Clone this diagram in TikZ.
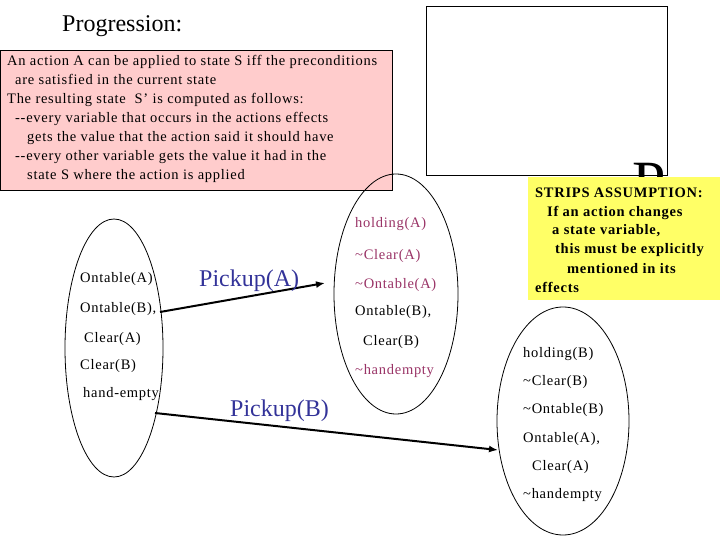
\documentclass[tikz,border=0pt]{standalone}
\usepackage{fontspec}
\setmainfont{Liberation Serif}
\newfontfamily\spaced[LetterSpace=5]{Liberation Serif}
\usetikzlibrary{shapes.geometric,arrows.meta}
\definecolor{pinkfill}{HTML}{FFCCCC}
\definecolor{yel}{HTML}{FFFF66}
\definecolor{mag}{HTML}{993366}
\definecolor{actblue}{HTML}{333399}
\newcommand{\tl}{\textasciitilde}
\begin{document}
\begin{tikzpicture}[x=1pt,y=-1pt,
  txt/.style={anchor=base west, inner sep=0pt, font=\spaced\fontsize{14.5}{17}\selectfont},
  btxt/.style={anchor=base west, inner sep=0pt, font=\spaced\fontsize{14.5}{17}\selectfont\bfseries},
  eff/.style={txt, text=mag},
  act/.style={anchor=base west, inner sep=0pt, text=actblue, font=\fontsize{24}{28}\selectfont},
  state/.style={draw, ellipse, inner sep=0pt, line width=0.8pt},
  arr/.style={line width=2pt, -{Latex[length=9pt,width=7pt]}}]
\useasboundingbox (0,0) rectangle (720,540);
% title
\node[anchor=base west, inner sep=0pt, font=\fontsize{24}{28}\selectfont] (title) at (62,32) {Progression:};
% pink box
\node[draw, fill=pinkfill, line width=1pt, anchor=north west, minimum width=392, minimum height=140, inner sep=0pt] (pbox) at (0,50) {};
\node[txt] (p1) at (7,66) {An action A can be applied to state S iff the preconditions};
\node[txt] (p2) at (15,85) {are satisfied in the current state};
\node[txt] (p3) at (7,104) {The resulting state\ \ S’ is computed as follows:};
\node[txt] (p4) at (15,123) {-{}-every variable that occurs in the actions effects};
\node[txt] (p5) at (27,142) {gets the value that the action said it should have};
\node[txt] (p6) at (15,161) {-{}-every other variable gets the value it had in the};
\node[txt] (p7) at (27,180) {state S where the action is applied};
% white rectangle and big letter (mostly hidden by the yellow box)
\node[draw, fill=white, line width=0.8pt, anchor=north west, minimum width=241, minimum height=169, inner sep=0pt] (wrect) at (426,6) {};
\begin{scope}
\clip (600,150) rectangle (700,177);
\node[anchor=base west, inner sep=0pt, font=\fontsize{60}{60}\selectfont] (bigP) at (632,203) {P};
\end{scope}
% yellow box
\node[fill=yel, anchor=north west, minimum width=192, minimum height=123, inner sep=0pt] (ybox) at (528,177) {};
\node[btxt] (y1) at (535,197) {STRIPS ASSUMPTION:};
\node[btxt] (y2) at (547,216) {If an action changes};
\node[btxt] (y3) at (552,235) {a state variable,};
\node[btxt] (y4) at (555,254) {this must be explicitly};
\node[btxt] (y5) at (567,273) {mentioned in its};
\node[btxt] (y6) at (535,292) {effects};
% ellipses
\node[state, minimum width=98, minimum height=258] (S0) at (114,348) {};
\node[state, minimum width=124, minimum height=240] (S1) at (396,294) {};
\node[state, minimum width=132, minimum height=228] (S2) at (563,421) {};
% left state texts
\node[txt] (l1) at (80,282) {Ontable(A)};
\node[txt] (l2) at (80,312) {Ontable(B),};
\node[txt] (l3) at (84,342) {Clear(A)};
\node[txt] (l4) at (80,369) {Clear(B)};
\node[txt] (l5) at (83,397) {hand-empty};
% upper right state texts
\node[eff] (a1) at (355,228) {holding(A)};
\node[eff] (a2) at (355,259) {\tl Clear(A)};
\node[eff] (a3) at (355,288) {\tl Ontable(A)};
\node[txt] (a4) at (355,315) {Ontable(B),};
\node[txt] (a5) at (363,345) {Clear(B)};
\node[eff] (a6) at (355,374) {\tl handempty};
% lower right state texts
\node[txt] (b1) at (523,357) {holding(B)};
\node[txt] (b2) at (523,385) {\tl Clear(B)};
\node[txt] (b3) at (523,413) {\tl Ontable(B)};
\node[txt] (b4) at (523,442) {Ontable(A),};
\node[txt] (b5) at (532,470) {Clear(A)};
\node[txt] (b6) at (523,498) {\tl handempty};
% actions
\coordinate (sA) at (160,312);
\coordinate (eA) at (325,283);
\coordinate (sB) at (155,413);
\coordinate (eB) at (498,450);
\draw[arr] (sA) -- (eA);
\draw[arr] (sB) -- (eB);
\node[act] (pa) at (199,286) {Pickup(A)};
\node[act] (pb) at (230,416) {Pickup(B)};
\end{tikzpicture}
\end{document}
